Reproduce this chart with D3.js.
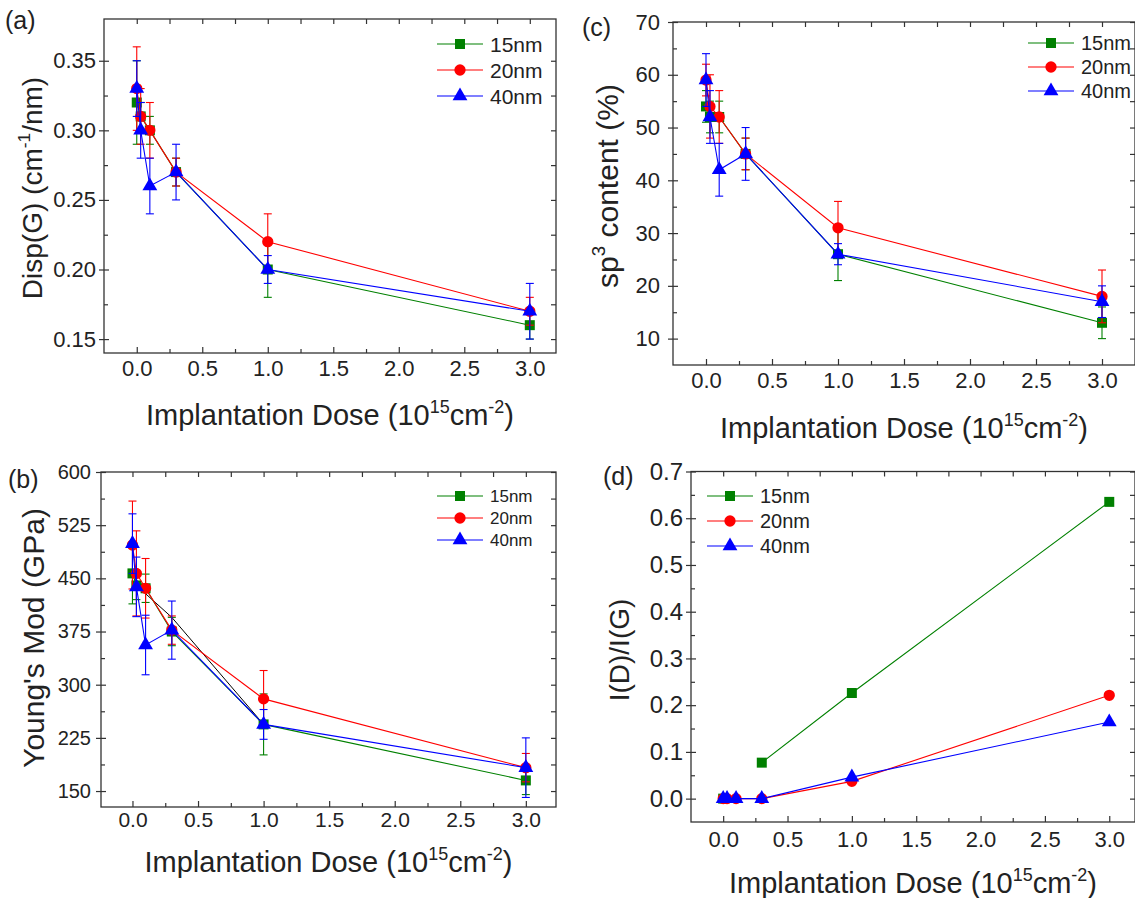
<!DOCTYPE html>
<html>
<head>
<meta charset="utf-8">
<script src="https://cdn.jsdelivr.net/npm/d3@7"></script>
<style>
body { margin: 0; background: #fff; }
svg { font-family: Arial, "Liberation Sans", sans-serif; }
</style>
</head>
<body>
<svg id="chart" width="1135" height="898"></svg>
<script>
const dose = [0, 0.03, 0.1, 0.3, 1, 3]
const sizes = ["15nm", "20nm", "40nm"]

// (a) Disp(G)
const dispG15 = [0.32, 0.31, 0.30, 0.27, 0.20, 0.16]
const dispG20 = [0.33, 0.31, 0.30, 0.27, 0.22, 0.17]
const dispG40 = [0.33, 0.30, 0.26, 0.27, 0.20, 0.17]
const dispG15Err = [0.03, 0.01, 0.01, 0.01, 0.02, 0.01]
const dispG20Err = [0.03, 0.02, 0.02, 0.01, 0.02, 0.01]
const dispG40Err = [0.02, 0.02, 0.02, 0.02, 0.01, 0.02]

// (b) Young's modulus
const ym15 = [457, 440, 436, 375, 244, 165]
const ym20 = [497, 457, 436, 377, 280, 183]
const ym40 = [499, 438, 356, 377, 244, 183]
const ym15Err = [43, 20, 20, 20, 43, 20]
const ym20Err = [62, 60, 42, 20, 40, 20]
const ym40Err = [42, 42, 42, 41, 21, 42]
const ymGuideDose = [0.03, 0.3, 1]
const ymGuide = [440, 395, 244]

// (c) sp3 content
const sp15 = [54, 52, 52, 45, 26, 13]
const sp20 = [59, 54, 52, 45, 31, 18]
const sp40 = [59, 52, 42, 45, 26, 17]
const sp15Err = [3, 3, 3, 3, 5, 3]
const sp20Err = [3, 6, 5, 3, 5, 5]
const sp40Err = [5, 5, 5, 5, 2, 3]

// (d) I(D)/I(G)
const idig15 = [0, null, null, 0.077, 0.226, 0.635]
const idig20 = [0, 0, 0, 0, 0.037, 0.221]
const idig40 = [0, 0, 0, 0, 0.046, 0.164]

const colors = ["#008000", "#ff0000", "#0000ff"]
const shapes = [d3.symbolSquare, d3.symbolCircle, d3.symbolTriangle]
const shapeSize = [100, 100, 95]

const svg = d3.select("#chart")

function rich(text, parts, fs) {
    let up = false
    parts.forEach(([s, sup]) => {
        const t = text.append("tspan").text(s)
        if (sup) {
            t.attr("font-size", fs * 0.62)
            if (!up) { t.attr("dy", -0.42 * fs); up = true }
        } else if (up) {
            t.attr("dy", 0.42 * fs); up = false
        }
    })
}

const doseTitle = [["Implantation Dose (10"], ["15", true], ["cm"], ["-2", true], [")"]]

const panels = [
    {
        tag: "(a)", tagX: 5, tagY: 29,
        left: 104, right: 556, top: 19, bottom: 353,
        xDom: [-0.25, 3.2], yDom: [0.14, 0.38],
        yMajor: d3.range(0.15, 0.351, 0.05), yMinor: d3.range(0.175, 0.34, 0.05), yFmt: ".2f",
        yLabelSize: 22, xLabelSize: 22, yPad: 3, xPad: 7,
        series: [dispG15, dispG20, dispG40], errs: [dispG15Err, dispG20Err, dispG40Err],
        yTitle: [["Disp(G) (cm"], ["-1", true], ["/nm)"]], yTitleSize: 28, yTitleX: 42, yTitleY: 188,
        xTitleY: 425,
        legX: 437, legY: 44, legGap: 26, legSize: 21
    },
    {
        tag: "(b)", tagX: 8, tagY: 488,
        left: 101, right: 556, top: 472, bottom: 807,
        xDom: [-0.24, 3.23], yDom: [127.5, 600],
        yMajor: d3.range(150, 601, 75), yMinor: d3.range(187.5, 570, 75), yFmt: "d",
        yLabelSize: 20, xLabelSize: 21, yPad: 5, xPad: 5,
        series: [ym15, ym20, ym40], errs: [ym15Err, ym20Err, ym40Err],
        guide: true,
        yTitle: [["Young's Mod (GPa)"]], yTitleSize: 30, yTitleX: 44, yTitleY: 638,
        xTitleY: 872,
        legX: 437, legY: 496, legGap: 22, legSize: 17
    },
    {
        tag: "(c)", tagX: 582, tagY: 36,
        left: 673, right: 1135, top: 22, bottom: 365,
        xDom: [-0.25, 3.25], yDom: [5, 70],
        yMajor: d3.range(10, 71, 10), yMinor: d3.range(15, 66, 10), yFmt: "d",
        yLabelSize: 22, xLabelSize: 22, yPad: 8, xPad: 7,
        series: [sp15, sp20, sp40], errs: [sp15Err, sp20Err, sp40Err],
        yTitle: [["sp"], ["3", true], [" content (%)"]], yTitleSize: 30, yTitleX: 618, yTitleY: 186,
        xTitleY: 438,
        legX: 1028, legY: 43, legGap: 24, legSize: 20
    },
    {
        tag: "(d)", tagX: 603, tagY: 485,
        left: 691, right: 1135, top: 471.5, bottom: 822,
        xDom: [-0.25, 3.2], yDom: [-0.05, 0.7],
        yMajor: d3.range(0, 0.71, 0.1), yMinor: d3.range(0.05, 0.66, 0.1), yFmt: ".1f",
        yLabelSize: 24, xLabelSize: 22, yPad: 3, xPad: 9,
        series: [idig15, idig20, idig40], errs: null,
        yTitle: [["I(D)/I(G)"]], yTitleSize: 28, yTitleX: 629, yTitleY: 650,
        xTitleY: 893,
        legX: 707, legY: 496, legGap: 25, legSize: 20
    }
]

panels.forEach(p => {
    const g = svg.append("g")
    const x = d3.scaleLinear().domain(p.xDom).range([p.left, p.right])
    const y = d3.scaleLinear().domain(p.yDom).range([p.bottom, p.top])
    const xMajor = d3.range(0, 3.01, 0.5)
    const xMinor = d3.range(0.25, 2.8, 0.5)

    // axes, ticks inside (left crosses the frame)
    const bottom = g.append("g").attr("transform", `translate(0,${p.bottom})`)
    bottom.call(d3.axisBottom(x).tickValues(xMajor).tickSize(-6).tickPadding(p.xPad).tickFormat(d3.format(".1f")))
    bottom.append("g").call(d3.axisBottom(x).tickValues(xMinor).tickSize(-4).tickFormat(""))
    const top = g.append("g").attr("transform", `translate(0,${p.top})`)
    top.call(d3.axisTop(x).tickValues(xMajor.concat(xMinor)).tickSize(-5).tickFormat(""))

    const left = g.append("g").attr("transform", `translate(${p.left},0)`)
    left.call(d3.axisLeft(y).tickValues(p.yMajor).tickSize(5).tickPadding(p.yPad).tickFormat(d3.format(p.yFmt)))
    left.append("g").call(d3.axisLeft(y).tickValues(p.yMajor).tickSize(-5).tickFormat(""))
    left.append("g").call(d3.axisLeft(y).tickValues(p.yMinor).tickSize(-4).tickFormat(""))
    const right = g.append("g").attr("transform", `translate(${p.right},0)`)
    right.call(d3.axisRight(y).tickValues(p.yMajor.concat(p.yMinor)).tickSize(-5).tickFormat(""))

    g.selectAll(".domain").remove()
    g.selectAll(".tick line").attr("stroke", "#333").attr("stroke-width", 1.2)
    bottom.selectAll("text").attr("font-size", p.xLabelSize).attr("fill", "#222").attr("font-family", "Arial, 'Liberation Sans'")
    left.selectAll("text").attr("font-size", p.yLabelSize).attr("fill", "#222").attr("font-family", "Arial, 'Liberation Sans'")

    g.append("rect")
        .attr("x", p.left).attr("y", p.top)
        .attr("width", p.right - p.left).attr("height", p.bottom - p.top)
        .attr("fill", "none").attr("stroke", "#333").attr("stroke-width", 1.3)

    // panel tag and titles
    g.append("text").attr("x", p.tagX).attr("y", p.tagY)
        .attr("font-size", 25).attr("fill", "#222").text(p.tag)

    const xt = g.append("text")
        .attr("x", (p.left + p.right) / 2).attr("y", p.xTitleY)
        .attr("text-anchor", "middle").attr("font-size", 29).attr("fill", "#222")
    rich(xt, doseTitle, 29)

    const yt = g.append("text")
        .attr("transform", `translate(${p.yTitleX},${p.yTitleY}) rotate(-90)`)
        .attr("text-anchor", "middle").attr("font-size", p.yTitleSize).attr("fill", "#222")
    rich(yt, p.yTitle, p.yTitleSize)

    // thin black line in (b)
    if (p.guide) {
        g.append("path")
            .datum(ymGuideDose.map((d, i) => [d, ymGuide[i]]))
            .attr("fill", "none").attr("stroke", "#000").attr("stroke-width", 1)
            .attr("d", d3.line().x(d => x(d[0])).y(d => y(d[1])))
    }

    const line = d3.line()
        .defined(d => d[1] != null)
        .x(d => x(d[0])).y(d => y(d[1]))

    p.series.forEach((vals, s) => {
        const pts = dose.map((d, i) => [d, vals[i], p.errs ? p.errs[s][i] : 0])
        const sg = g.append("g")
        sg.append("path").datum(pts)
            .attr("fill", "none").attr("stroke", colors[s]).attr("stroke-width", 1.1)
            .attr("d", line)

        if (p.errs) {
            const eb = sg.selectAll(".err").data(pts.filter(d => d[1] != null)).join("g")
            eb.append("line")
                .attr("x1", d => x(d[0])).attr("x2", d => x(d[0]))
                .attr("y1", d => y(d[1] - d[2])).attr("y2", d => y(d[1] + d[2]))
            eb.append("line")
                .attr("x1", d => x(d[0]) - 4).attr("x2", d => x(d[0]) + 4)
                .attr("y1", d => y(d[1] + d[2])).attr("y2", d => y(d[1] + d[2]))
            eb.append("line")
                .attr("x1", d => x(d[0]) - 4).attr("x2", d => x(d[0]) + 4)
                .attr("y1", d => y(d[1] - d[2])).attr("y2", d => y(d[1] - d[2]))
            eb.selectAll("line").attr("stroke", colors[s]).attr("stroke-width", 1.1)
        }

        sg.selectAll(".mark").data(pts.filter(d => d[1] != null)).join("path")
            .attr("transform", d => `translate(${x(d[0])},${y(d[1])})`)
            .attr("d", d3.symbol(shapes[s], shapeSize[s]))
            .attr("fill", colors[s])
    })

    // legend
    sizes.forEach((name, s) => {
        const ly = p.legY + s * p.legGap
        g.append("line")
            .attr("x1", p.legX).attr("x2", p.legX + 46)
            .attr("y1", ly).attr("y2", ly)
            .attr("stroke", colors[s]).attr("stroke-width", 1.1)
        g.append("path")
            .attr("transform", `translate(${p.legX + 23},${ly})`)
            .attr("d", d3.symbol(shapes[s], shapeSize[s]))
            .attr("fill", colors[s])
        g.append("text")
            .attr("x", p.legX + 53).attr("y", ly)
            .attr("dy", "0.36em")
            .attr("font-size", p.legSize).attr("fill", "#222")
            .text(name)
    })
})
</script>
</body>
</html>
